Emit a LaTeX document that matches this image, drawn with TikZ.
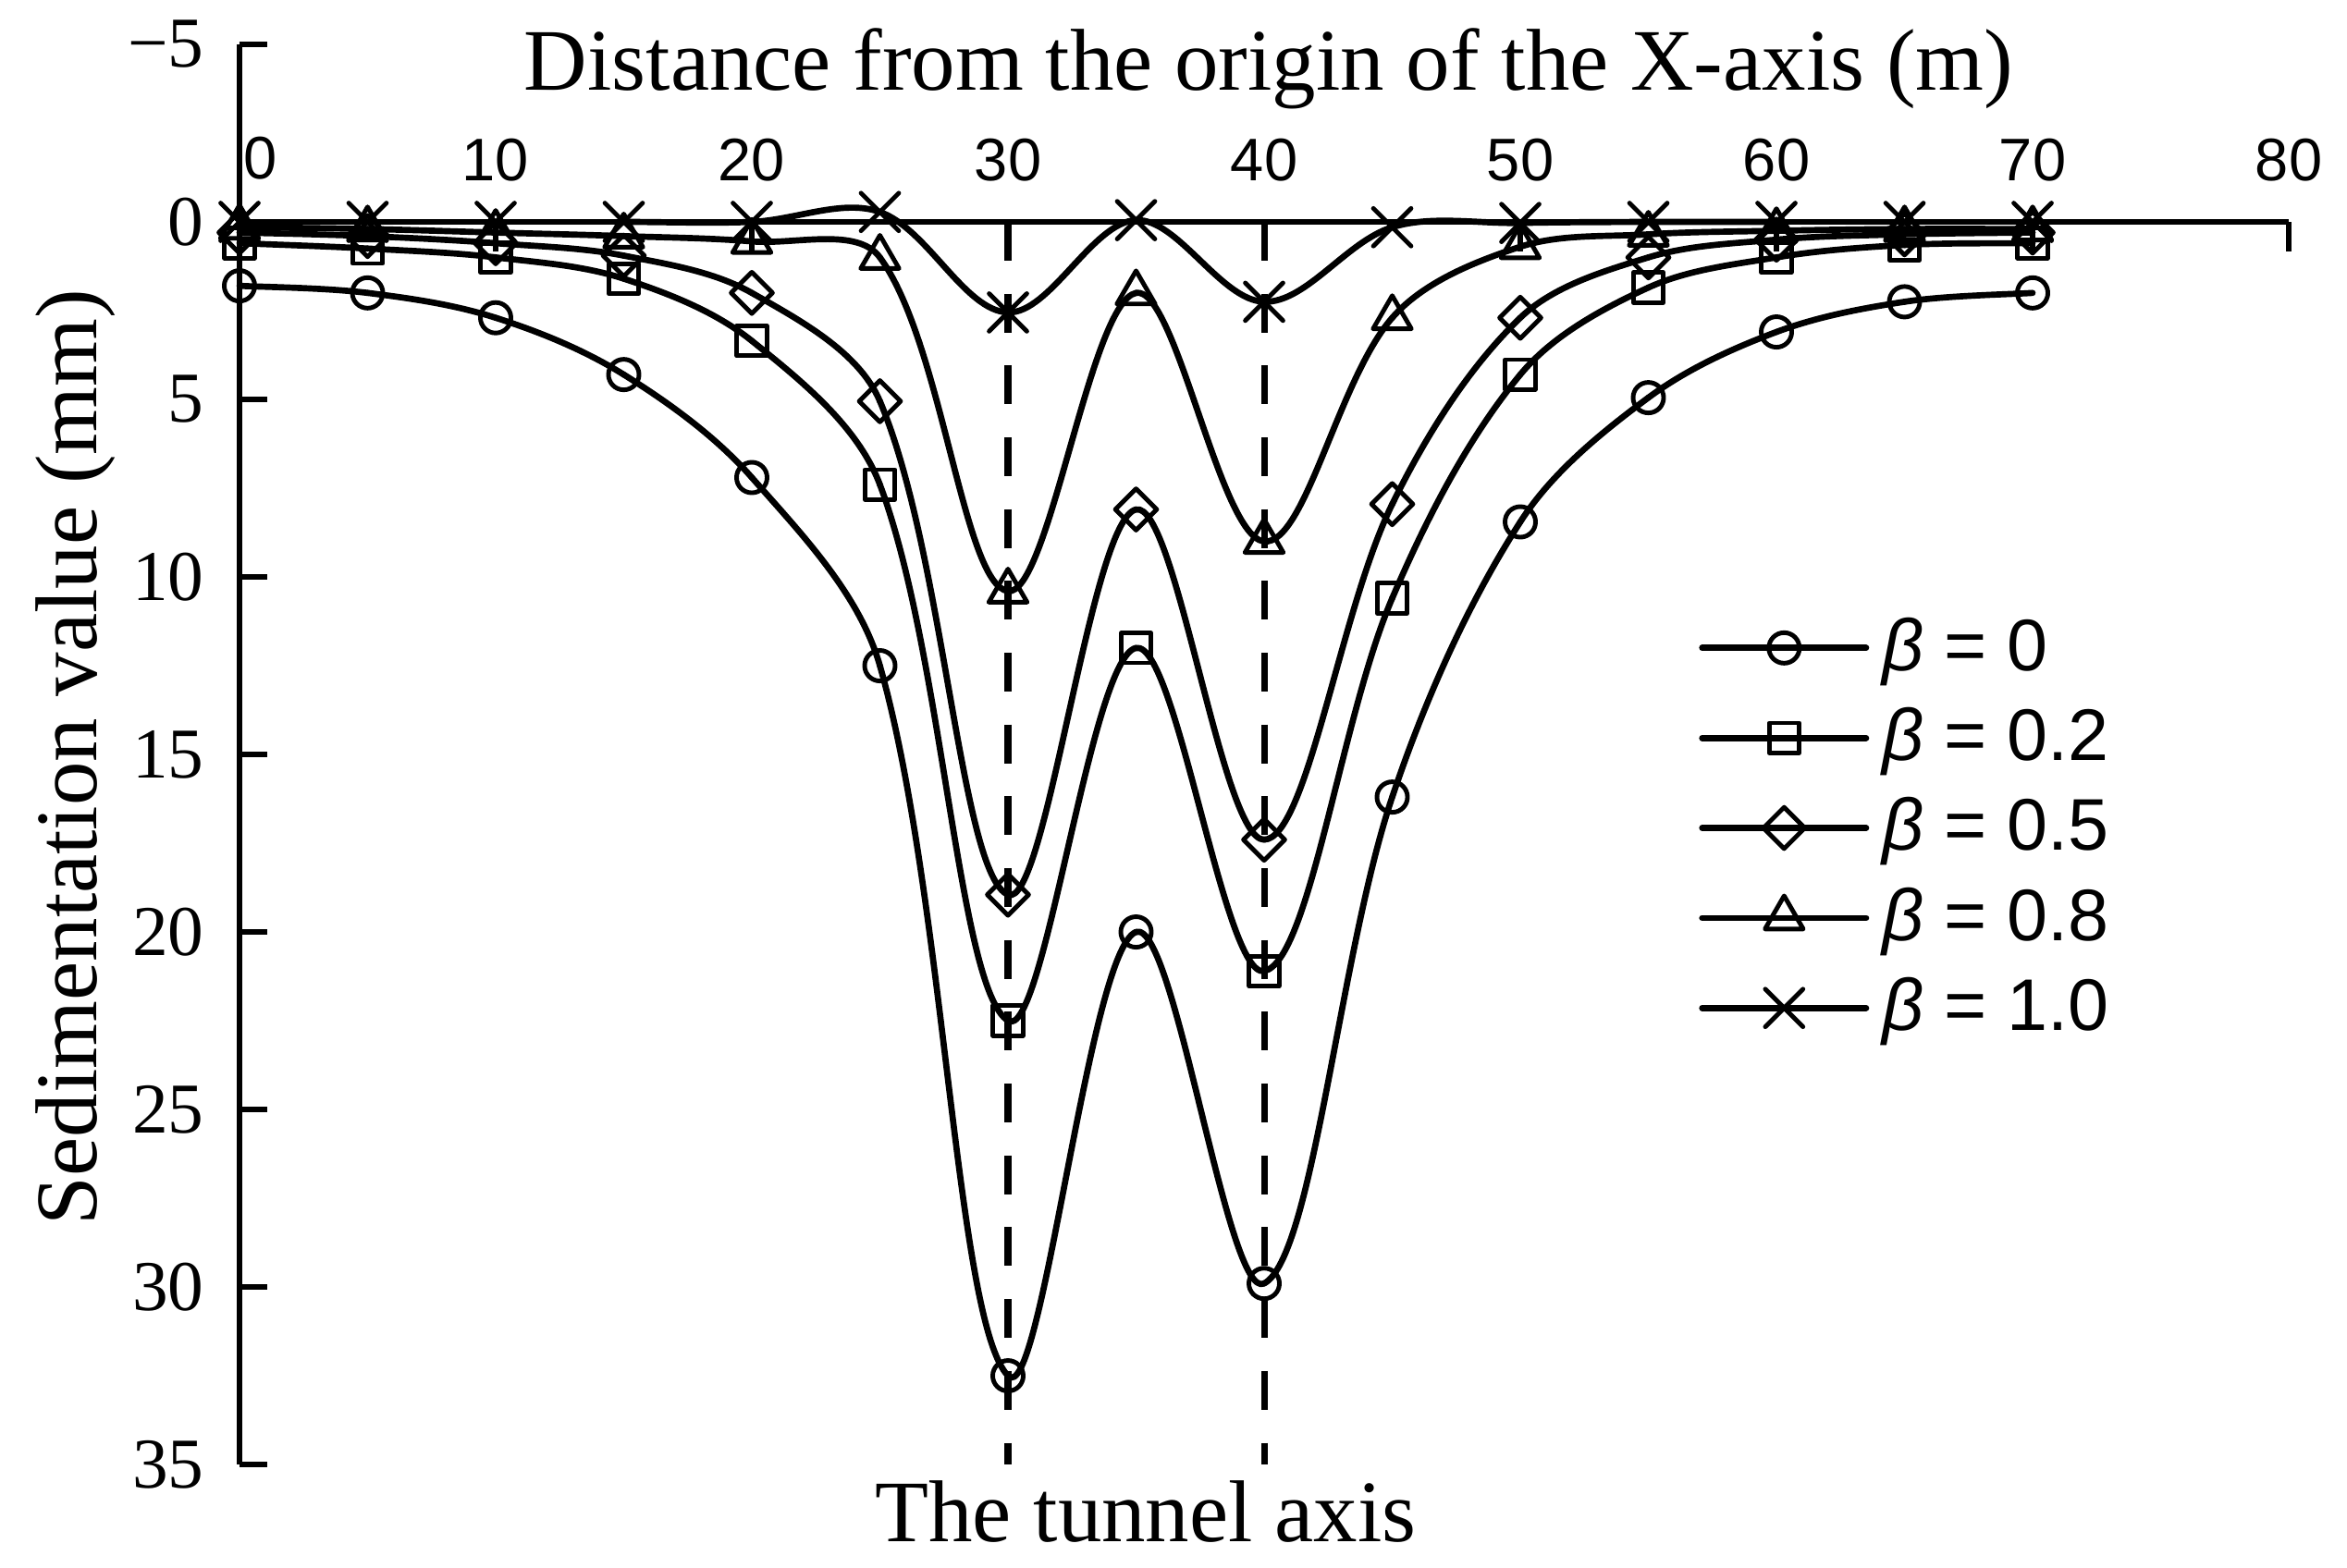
\documentclass[tikz,border=0pt]{standalone}
\usepackage{fontspec}
\setmainfont{Liberation Serif}
\newfontfamily\arialfont{Liberation Sans}
\usetikzlibrary{plotmarks}
\tikzset{axisline/.style={line width=1.8pt},
  tunnel/.style={line width=2pt, dash pattern=on 11.9pt off 10.2pt},
  sedi/.style={line width=1.9pt, line join=round, line cap=round,
    mark options={solid, line width=1.4pt}},
  bzero/.style={sedi, mark=o, mark size=4.7pt},
  btwo/.style={sedi, mark=square, mark size=4.6pt},
  bfive/.style={sedi, mark=square, mark size=4.5pt, mark options={solid, line width=1.4pt, rotate=45}},
  beight/.style={sedi, mark=triangle, mark size=6.8pt},
  bone/.style={sedi, mark=x, mark size=8.2pt},
  titletext/.style={inner sep=0pt, font=\fontsize{27}{32}\selectfont},
  ylab/.style={inner sep=0pt, font=\fontsize{22}{26}\selectfont},
  xlab/.style={inner sep=0pt, font=\arialfont\fontsize{18.5}{22}\selectfont},
  legtext/.style={inner sep=0pt, font=\arialfont\fontsize{22.5}{27}\selectfont}}
% smoothed series through x = 0,5,...,70 (arms weighted by the chord lengths)
\newcommand\sedicurve[2]{%
  \def\sv{{#2}}%
  \foreach \i in {0,...,13} {%
    \pgfmathtruncatemacro\ip{max(\i-1,0)}%
    \pgfmathtruncatemacro\iq{\i+1}%
    \pgfmathtruncatemacro\ir{min(\i+2,14)}%
    \pgfmathsetmacro\ya{\sv[\ip]}%
    \pgfmathsetmacro\yb{\sv[\i]}%
    \pgfmathsetmacro\yc{\sv[\iq]}%
    \pgfmathsetmacro\yd{\sv[\ir]}%
    \pgfmathsetmacro\da{veclen(1.385*(\i-\ip),0.384*(\yb-\ya))}%
    \pgfmathsetmacro\db{veclen(1.385,0.384*(\yc-\yb))}%
    \pgfmathsetmacro\dc{veclen(1.385*(\ir-\iq),0.384*(\yd-\yc))}%
    \pgfmathsetmacro\fa{\i==0 ? 1/6 : \db/(\da+\db)/3}%
    \pgfmathsetmacro\fb{\iq==14 ? 1/6 : \db/(\db+\dc)/3}%
    \draw [#1] (5*\i,\yb) .. controls ({5*\i+5*\fa*(\iq-\ip)},{\yb+\fa*(\yc-\ya)}) and ({5*\iq-5*\fb*(\ir-\i)},{\yc-\fb*(\yd-\yb)}) .. (5*\iq,\yc);
  }%
  \foreach \v [count=\j from 0] in {#2} \draw [#1] plot [only marks] coordinates {(5*\j,\v)};%
}

\begin{document}
\begin{tikzpicture}[x=0.277cm, y=-0.384cm]
      \useasboundingbox (-9.350,-6.25) rectangle (82.274,37.89);

      \draw [axisline] (0,-5) -- (0,35);
      \draw [axisline] (0,0) -- (80,0);
      \foreach \v/\t in {-5/−5, 0/0, 5/5, 10/10, 15/15, 20/20, 25/25, 30/30, 35/35} {
        \draw [axisline] (0,\v) -- ++(1.1,0);
        \node (ytick\v) [ylab, anchor=east] at (-1.37,\v) {\t};
      }
      \foreach \u in {10,20,...,80} {
        \draw [axisline] (\u,0) -- (\u,0.83);
        \node (xtick\u) [xlab, anchor=base] at (\u,-1.17) {\u};
      }
      \node (xtick0) [xlab, anchor=base] at (0.83,-1.2) {0};

      \coordinate (axis30) at (30,0);
      \coordinate (axis40) at (40,0);
      \coordinate (foot30) at (30,35);
      \coordinate (foot40) at (40,35);
      \draw [tunnel] (axis30) -- (foot30);
      \draw [tunnel] (axis40) -- (foot40);

      \sedicurve{bzero}{1.8,2.0,2.7,4.3,7.2,12.5,32.5,20.0,29.9,16.2,8.45,4.95,3.1,2.25,2.0}
      \sedicurve{btwo}{0.6,0.75,1.0,1.6,3.35,7.4,22.5,12.0,21.1,10.6,4.3,1.85,1.0,0.65,0.6}
      \sedicurve{bfive}{0.3,0.4,0.6,0.95,2.0,5.05,18.95,8.1,17.4,7.95,2.7,1.0,0.5,0.35,0.3}
      \sedicurve{beight}{0.15,0.2,0.3,0.4,0.55,1.0,10.4,2.0,9.0,2.7,0.7,0.35,0.25,0.2,0.2}
      \sedicurve{bone}{0,0,0,0,0,-0.28,2.55,-0.05,2.25,0.15,0.03,0,0,0,0}

      \foreach \sty/\lab [count=\i from 0] in {bzero/0, btwo/0.2, bfive/0.5, beight/0.8, bone/1.0} {
        \coordinate (lega\i) at (57.1,12+2.535*\i);
        \coordinate (legm\i) at (60.3,12+2.535*\i);
        \coordinate (legb\i) at (63.5,12+2.535*\i);
        \draw [\sty, mark indices={2}] plot coordinates {(lega\i) (legm\i) (legb\i)};
        \node (leg\i) [legtext, anchor=base west] at (64.1,12.63+2.535*\i) {{\itshape β} = \lab};
      }

      \node (xtitle) [titletext, anchor=base] at (40.18,-3.72) {Distance from the origin of the X-axis (m)};
      \node (ytitle) [titletext, rotate=90, anchor=base] at (-5.56,15.08) {Sedimentation value (mm)};
      \node (tunnelaxis) [titletext, anchor=base] at (35.38,37.16) {The tunnel axis};
    \end{tikzpicture}
\end{document}
